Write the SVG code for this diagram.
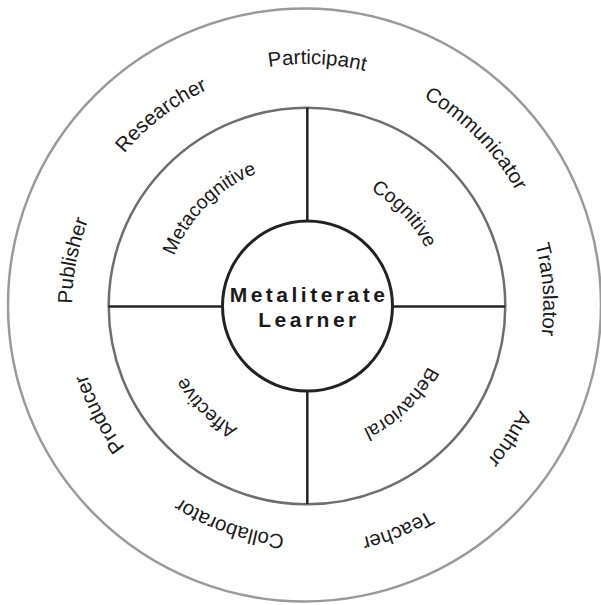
<svg xmlns="http://www.w3.org/2000/svg" xmlns:xlink="http://www.w3.org/1999/xlink" width="601" height="605" viewBox="0 0 601 605">
<style>
.outer{font-family:"Liberation Sans",Arial,sans-serif;font-size:20.5px;fill:#1a1a1a}
.inner{font-family:"Liberation Sans",Arial,sans-serif;font-size:19.5px;fill:#1a1a1a}
.center{font-family:"Liberation Sans",Arial,sans-serif;font-size:21px;font-weight:bold;fill:#1a1a1a;letter-spacing:3.5px}
.ring{fill:none}
</style>
<defs>
<path id="p-participant" d="M65.2,295.9 A242,242 0 0 1 548.8,316.1"/>
<path id="p-researcher" d="M117.9,450.6 A238,238 0 0 1 496.1,161.4"/>
<path id="p-communicator" d="M136.5,134.3 A242,242 0 0 1 477.5,477.7"/>
<path id="p-translator" d="M290.3,67.6 A239,239 0 0 1 323.7,544.4"/>
<path id="p-author" d="M437.1,107.9 A237,237 0 0 1 176.9,504.1"/>
<path id="p-teacher" d="M527.7,216.8 A238,238 0 0 1 86.3,395.2"/>
<path id="p-collaborator" d="M523.8,382.8 A230,230 0 0 1 90.2,229.2"/>
<path id="p-producer" d="M415.5,514.4 A235,235 0 0 1 198.5,97.6"/>
<path id="p-publisher" d="M262.2,536.7 A235,235 0 0 1 351.8,75.3"/>
<path id="p-metacognitive" d="M204.5,408.5 A145,145 0 0 1 409.5,203.5"/>
<path id="p-cognitive" d="M214.1,208.1 A135,135 0 0 1 399.9,403.9"/>
<path id="p-behavioral" d="M405.5,210.8 A137,137 0 0 1 208.5,401.2"/>
<path id="p-affective" d="M407.9,405.9 A142,142 0 0 1 206.1,206.1"/>
</defs>
<g id="outer-ring">
<circle class="ring" cx="304.5" cy="305" r="296.5" stroke="#9a9a9a" stroke-width="2.5"/>
</g>
<g id="inner-ring">
<circle class="ring" cx="307" cy="306" r="198.3" stroke="#6e6e6e" stroke-width="2.5"/>
</g>
<g id="connectors" stroke="#222" stroke-width="2.5">
<line x1="307.3" y1="107.5" x2="307.3" y2="221"/>
<line x1="307.3" y1="391" x2="307.3" y2="504"/>
<line x1="108.5" y1="306.5" x2="222.5" y2="306.5"/>
<line x1="392.5" y1="306.5" x2="505" y2="306.5"/>
</g>
<g id="center-node">
<circle cx="307.5" cy="306" r="85" fill="#fff" stroke="#222" stroke-width="3"/>
<text class="center" x="309" y="302.3" text-anchor="middle">Metaliterate</text>
<text class="center" x="309" y="326.7" text-anchor="middle">Learner</text>
</g>
<g id="metacognitive"><text class="inner"><textPath xlink:href="#p-metacognitive" href="#p-metacognitive" startOffset="50%" text-anchor="middle">Metacognitive</textPath></text></g>
<g id="cognitive"><text class="inner"><textPath xlink:href="#p-cognitive" href="#p-cognitive" startOffset="50%" text-anchor="middle">Cognitive</textPath></text></g>
<g id="behavioral"><text class="inner"><textPath xlink:href="#p-behavioral" href="#p-behavioral" startOffset="50%" text-anchor="middle">Behavioral</textPath></text></g>
<g id="affective"><text class="inner"><textPath xlink:href="#p-affective" href="#p-affective" startOffset="50%" text-anchor="middle">Affective</textPath></text></g>
<g id="participant"><text class="outer"><textPath xlink:href="#p-participant" href="#p-participant" startOffset="50%" text-anchor="middle">Participant</textPath></text></g>
<g id="researcher"><text class="outer"><textPath xlink:href="#p-researcher" href="#p-researcher" startOffset="50%" text-anchor="middle">Researcher</textPath></text></g>
<g id="communicator"><text class="outer"><textPath xlink:href="#p-communicator" href="#p-communicator" startOffset="50%" text-anchor="middle">Communicator</textPath></text></g>
<g id="translator"><text class="outer"><textPath xlink:href="#p-translator" href="#p-translator" startOffset="50%" text-anchor="middle">Translator</textPath></text></g>
<g id="author"><text class="outer"><textPath xlink:href="#p-author" href="#p-author" startOffset="50%" text-anchor="middle">Author</textPath></text></g>
<g id="teacher"><text class="outer"><textPath xlink:href="#p-teacher" href="#p-teacher" startOffset="50%" text-anchor="middle">Teacher</textPath></text></g>
<g id="collaborator"><text class="outer"><textPath xlink:href="#p-collaborator" href="#p-collaborator" startOffset="50%" text-anchor="middle">Collaborator</textPath></text></g>
<g id="producer"><text class="outer"><textPath xlink:href="#p-producer" href="#p-producer" startOffset="50%" text-anchor="middle">Producer</textPath></text></g>
<g id="publisher"><text class="outer"><textPath xlink:href="#p-publisher" href="#p-publisher" startOffset="50%" text-anchor="middle">Publisher</textPath></text></g>
</svg>
